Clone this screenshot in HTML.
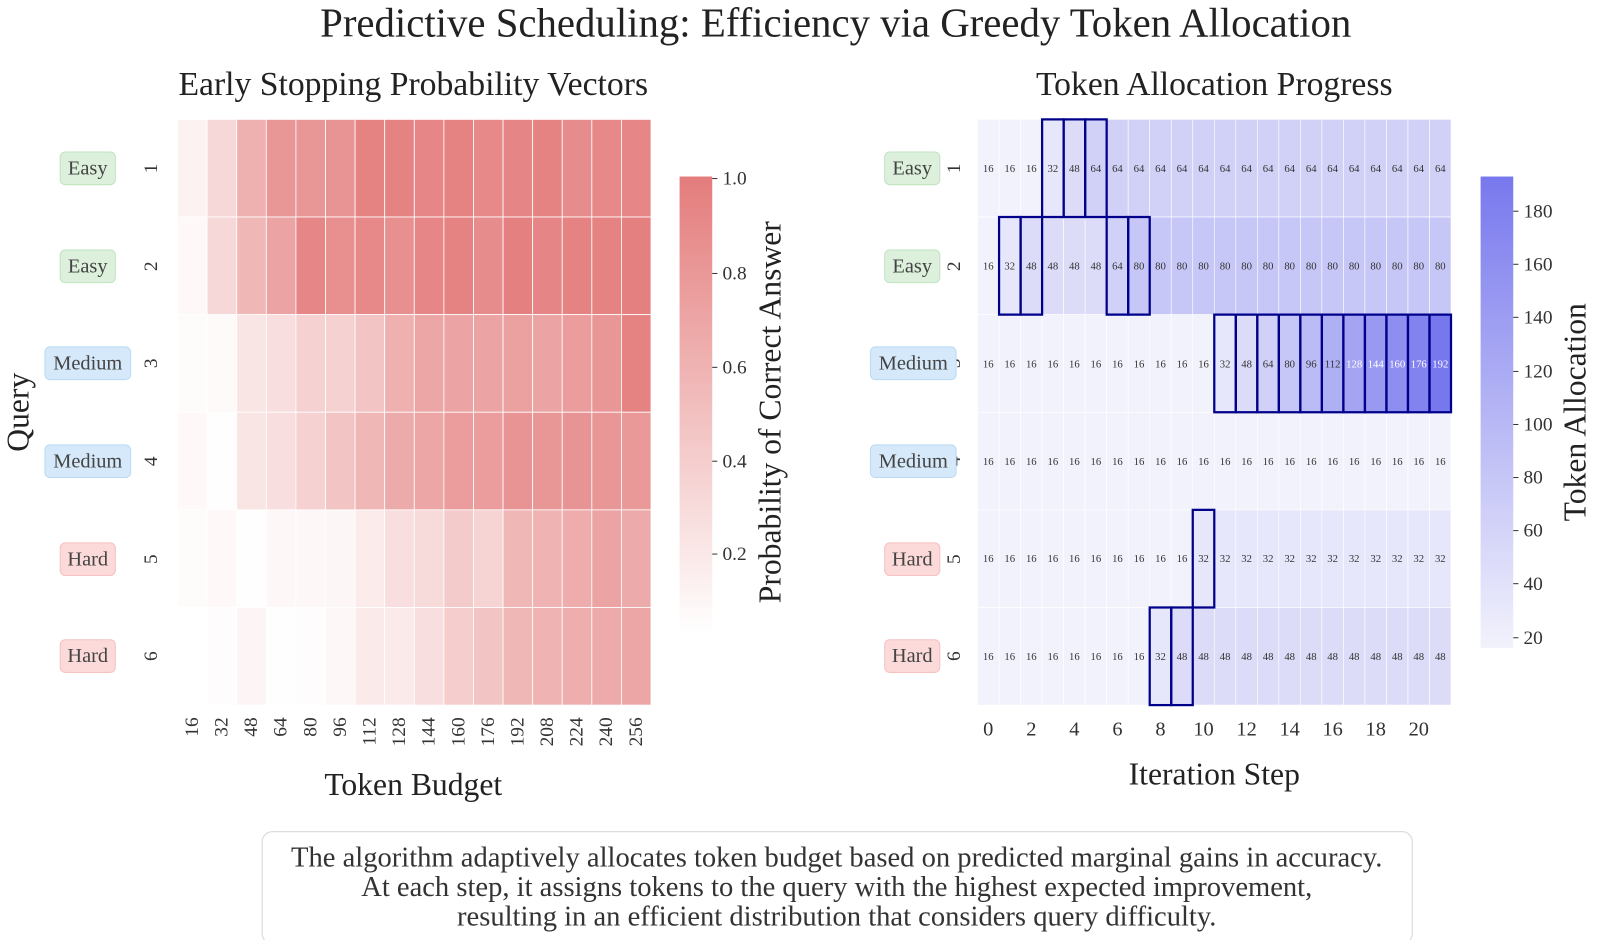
<!DOCTYPE html>
<html><head><meta charset="utf-8"><style>
html,body{margin:0;padding:0;background:#fff;}
svg{display:block;font-family:"Liberation Serif","DejaVu Serif",serif;}
</style></head><body>
<svg id="s" width="1600" height="940" viewBox="0 0 1600 940" xmlns="http://www.w3.org/2000/svg">
<defs>
<linearGradient id="gl" x1="0" y1="1" x2="0" y2="0"><stop offset="0" stop-color="#ffffff"/><stop offset="1" stop-color="#e47c7c"/></linearGradient>
<linearGradient id="gr" x1="0" y1="1" x2="0" y2="0"><stop offset="0" stop-color="#f2f2fc"/><stop offset="1" stop-color="#7878ee"/></linearGradient>
</defs>
<g transform="scale(1.0204)">
<g id="cellsL"></g><g id="cellsR"></g><g id="boxes"></g>
<text x="819" y="36" font-size="40" text-anchor="middle" fill="#222">Predictive Scheduling: Efficiency via Greedy Token Allocation</text>
<text x="405" y="93" font-size="33" text-anchor="middle" fill="#222">Early Stopping Probability Vectors</text>
<text x="1190" y="93" font-size="33" text-anchor="middle" fill="#222">Token Allocation Progress</text>
<g font-size="19" fill="#333">
<text transform="translate(154,165) rotate(-90)" text-anchor="middle">1</text>
<text transform="translate(154,261) rotate(-90)" text-anchor="middle">2</text>
<text transform="translate(154,356) rotate(-90)" text-anchor="middle">3</text>
<text transform="translate(154,452) rotate(-90)" text-anchor="middle">4</text>
<text transform="translate(154,548) rotate(-90)" text-anchor="middle">5</text>
<text transform="translate(154,643) rotate(-90)" text-anchor="middle">6</text>
<text transform="translate(941,165) rotate(-90)" text-anchor="middle">1</text>
<text transform="translate(941,261) rotate(-90)" text-anchor="middle">2</text>
<text transform="translate(941,356) rotate(-90)" text-anchor="middle">3</text>
<text transform="translate(941,452) rotate(-90)" text-anchor="middle">4</text>
<text transform="translate(941,548) rotate(-90)" text-anchor="middle">5</text>
<text transform="translate(941,643) rotate(-90)" text-anchor="middle">6</text>
</g>
<g font-size="20" fill="#444" text-anchor="middle">
<rect x="59" y="149" width="54" height="32" rx="5" fill="#dcf0dc" stroke="#bfe3bf"/><text x="86" y="171">Easy</text>
<rect x="59" y="245" width="54" height="32" rx="5" fill="#dcf0dc" stroke="#bfe3bf"/><text x="86" y="267">Easy</text>
<rect x="44" y="340" width="84" height="32" rx="5" fill="#d5e9fa" stroke="#b9daf5"/><text x="86" y="362">Medium</text>
<rect x="44" y="436" width="84" height="32" rx="5" fill="#d5e9fa" stroke="#b9daf5"/><text x="86" y="458">Medium</text>
<rect x="59" y="532" width="54" height="32" rx="5" fill="#fcdada" stroke="#f5c1c1"/><text x="86" y="554">Hard</text>
<rect x="59" y="627" width="54" height="32" rx="5" fill="#fcdada" stroke="#f5c1c1"/><text x="86" y="649">Hard</text>
<rect x="867" y="149" width="54" height="32" rx="5" fill="#dcf0dc" stroke="#bfe3bf"/><text x="894" y="171">Easy</text>
<rect x="867" y="245" width="54" height="32" rx="5" fill="#dcf0dc" stroke="#bfe3bf"/><text x="894" y="267">Easy</text>
<rect x="853" y="340" width="84" height="32" rx="5" fill="#d5e9fa" stroke="#b9daf5"/><text x="895" y="362">Medium</text>
<rect x="853" y="436" width="84" height="32" rx="5" fill="#d5e9fa" stroke="#b9daf5"/><text x="895" y="458">Medium</text>
<rect x="867" y="532" width="54" height="32" rx="5" fill="#fcdada" stroke="#f5c1c1"/><text x="894" y="554">Hard</text>
<rect x="867" y="627" width="54" height="32" rx="5" fill="#fcdada" stroke="#f5c1c1"/><text x="894" y="649">Hard</text>
</g>
<g font-size="19" fill="#333" text-anchor="end">
<text transform="translate(194,703) rotate(-90)">16</text>
<text transform="translate(223,703) rotate(-90)">32</text>
<text transform="translate(252,703) rotate(-90)">48</text>
<text transform="translate(281,703) rotate(-90)">64</text>
<text transform="translate(310,703) rotate(-90)">80</text>
<text transform="translate(339,703) rotate(-90)">96</text>
<text transform="translate(368,703) rotate(-90)">112</text>
<text transform="translate(397,703) rotate(-90)">128</text>
<text transform="translate(426,703) rotate(-90)">144</text>
<text transform="translate(455,703) rotate(-90)">160</text>
<text transform="translate(484,703) rotate(-90)">176</text>
<text transform="translate(513,703) rotate(-90)">192</text>
<text transform="translate(542,703) rotate(-90)">208</text>
<text transform="translate(571,703) rotate(-90)">224</text>
<text transform="translate(600,703) rotate(-90)">240</text>
<text transform="translate(629,703) rotate(-90)">256</text>
</g>
<g font-size="20" fill="#333" text-anchor="middle">
<text x="968.5" y="721">0</text><text x="1010.7" y="721">2</text><text x="1052.9" y="721">4</text><text x="1095.1" y="721">6</text><text x="1137.3" y="721">8</text><text x="1179.5" y="721">10</text><text x="1221.7" y="721">12</text><text x="1263.9" y="721">14</text><text x="1306" y="721">16</text><text x="1348.2" y="721">18</text><text x="1390.4" y="721">20</text>
</g>
<text x="405" y="779" font-size="31" text-anchor="middle" fill="#222">Token Budget</text>
<text x="1190" y="769" font-size="31" text-anchor="middle" fill="#222">Iteration Step</text>
<text transform="translate(28,404) rotate(-90)" font-size="31" text-anchor="middle" fill="#222">Query</text>
<rect x="666" y="173" width="32" height="449" fill="url(#gl)"/>
<g font-size="19" fill="#333">
<line x1="698" y1="175" x2="703" y2="175" stroke="#333"/><text x="708" y="181">1.0</text>
<line x1="698" y1="268" x2="703" y2="268" stroke="#333"/><text x="708" y="274">0.8</text>
<line x1="698" y1="360" x2="703" y2="360" stroke="#333"/><text x="708" y="366">0.6</text>
<line x1="698" y1="452" x2="703" y2="452" stroke="#333"/><text x="708" y="458">0.4</text>
<line x1="698" y1="543" x2="703" y2="543" stroke="#333"/><text x="708" y="549">0.2</text>
</g>
<text transform="translate(765,404) rotate(-90)" font-size="31" text-anchor="middle" fill="#222">Probability of Correct Answer</text>
<rect x="1451" y="173" width="32" height="462" fill="url(#gr)"/>
<g font-size="19" fill="#333">
<line x1="1483" y1="207" x2="1488" y2="207" stroke="#333"/><text x="1493" y="213">180</text>
<line x1="1483" y1="259" x2="1488" y2="259" stroke="#333"/><text x="1493" y="265">160</text>
<line x1="1483" y1="311" x2="1488" y2="311" stroke="#333"/><text x="1493" y="317">140</text>
<line x1="1483" y1="364" x2="1488" y2="364" stroke="#333"/><text x="1493" y="370">120</text>
<line x1="1483" y1="416" x2="1488" y2="416" stroke="#333"/><text x="1493" y="422">100</text>
<line x1="1483" y1="468" x2="1488" y2="468" stroke="#333"/><text x="1493" y="474">80</text>
<line x1="1483" y1="520" x2="1488" y2="520" stroke="#333"/><text x="1493" y="526">60</text>
<line x1="1483" y1="572" x2="1488" y2="572" stroke="#333"/><text x="1493" y="578">40</text>
<line x1="1483" y1="625" x2="1488" y2="625" stroke="#333"/><text x="1493" y="631">20</text>
</g>
<text transform="translate(1554,404) rotate(-90)" font-size="31" text-anchor="middle" fill="#222">Token Allocation</text>
<g font-size="10.5" fill="#333" text-anchor="middle">
<text y="168.5"><tspan x="968.5">16</tspan><tspan x="989.6">16</tspan><tspan x="1010.7">16</tspan><tspan x="1031.8">32</tspan><tspan x="1052.9">48</tspan><tspan x="1074">64</tspan><tspan x="1095.1">64</tspan><tspan x="1116.2">64</tspan><tspan x="1137.3">64</tspan><tspan x="1158.4">64</tspan><tspan x="1179.5">64</tspan><tspan x="1200.6">64</tspan><tspan x="1221.7">64</tspan><tspan x="1242.8">64</tspan><tspan x="1263.9">64</tspan><tspan x="1285">64</tspan><tspan x="1306">64</tspan><tspan x="1327.1">64</tspan><tspan x="1348.2">64</tspan><tspan x="1369.3">64</tspan><tspan x="1390.4">64</tspan><tspan x="1411.5">64</tspan></text>
<text y="264"><tspan x="968.5">16</tspan><tspan x="989.6">32</tspan><tspan x="1010.7">48</tspan><tspan x="1031.8">48</tspan><tspan x="1052.9">48</tspan><tspan x="1074">48</tspan><tspan x="1095.1">64</tspan><tspan x="1116.2">80</tspan><tspan x="1137.3">80</tspan><tspan x="1158.4">80</tspan><tspan x="1179.5">80</tspan><tspan x="1200.6">80</tspan><tspan x="1221.7">80</tspan><tspan x="1242.8">80</tspan><tspan x="1263.9">80</tspan><tspan x="1285">80</tspan><tspan x="1306">80</tspan><tspan x="1327.1">80</tspan><tspan x="1348.2">80</tspan><tspan x="1369.3">80</tspan><tspan x="1390.4">80</tspan><tspan x="1411.5">80</tspan></text>
<text y="360"><tspan x="968.5">16</tspan><tspan x="989.6">16</tspan><tspan x="1010.7">16</tspan><tspan x="1031.8">16</tspan><tspan x="1052.9">16</tspan><tspan x="1074">16</tspan><tspan x="1095.1">16</tspan><tspan x="1116.2">16</tspan><tspan x="1137.3">16</tspan><tspan x="1158.4">16</tspan><tspan x="1179.5">16</tspan><tspan x="1200.6">32</tspan><tspan x="1221.7">48</tspan><tspan x="1242.8">64</tspan><tspan x="1263.9">80</tspan><tspan x="1285">96</tspan><tspan x="1306">112</tspan><tspan x="1327.1" fill="#fff">128</tspan><tspan x="1348.2" fill="#fff">144</tspan><tspan x="1369.3" fill="#fff">160</tspan><tspan x="1390.4" fill="#fff">176</tspan><tspan x="1411.5" fill="#fff">192</tspan></text>
<text y="455.5"><tspan x="968.5">16</tspan><tspan x="989.6">16</tspan><tspan x="1010.7">16</tspan><tspan x="1031.8">16</tspan><tspan x="1052.9">16</tspan><tspan x="1074">16</tspan><tspan x="1095.1">16</tspan><tspan x="1116.2">16</tspan><tspan x="1137.3">16</tspan><tspan x="1158.4">16</tspan><tspan x="1179.5">16</tspan><tspan x="1200.6">16</tspan><tspan x="1221.7">16</tspan><tspan x="1242.8">16</tspan><tspan x="1263.9">16</tspan><tspan x="1285">16</tspan><tspan x="1306">16</tspan><tspan x="1327.1">16</tspan><tspan x="1348.2">16</tspan><tspan x="1369.3">16</tspan><tspan x="1390.4">16</tspan><tspan x="1411.5">16</tspan></text>
<text y="551"><tspan x="968.5">16</tspan><tspan x="989.6">16</tspan><tspan x="1010.7">16</tspan><tspan x="1031.8">16</tspan><tspan x="1052.9">16</tspan><tspan x="1074">16</tspan><tspan x="1095.1">16</tspan><tspan x="1116.2">16</tspan><tspan x="1137.3">16</tspan><tspan x="1158.4">16</tspan><tspan x="1179.5">32</tspan><tspan x="1200.6">32</tspan><tspan x="1221.7">32</tspan><tspan x="1242.8">32</tspan><tspan x="1263.9">32</tspan><tspan x="1285">32</tspan><tspan x="1306">32</tspan><tspan x="1327.1">32</tspan><tspan x="1348.2">32</tspan><tspan x="1369.3">32</tspan><tspan x="1390.4">32</tspan><tspan x="1411.5">32</tspan></text>
<text y="647"><tspan x="968.5">16</tspan><tspan x="989.6">16</tspan><tspan x="1010.7">16</tspan><tspan x="1031.8">16</tspan><tspan x="1052.9">16</tspan><tspan x="1074">16</tspan><tspan x="1095.1">16</tspan><tspan x="1116.2">16</tspan><tspan x="1137.3">32</tspan><tspan x="1158.4">48</tspan><tspan x="1179.5">48</tspan><tspan x="1200.6">48</tspan><tspan x="1221.7">48</tspan><tspan x="1242.8">48</tspan><tspan x="1263.9">48</tspan><tspan x="1285">48</tspan><tspan x="1306">48</tspan><tspan x="1327.1">48</tspan><tspan x="1348.2">48</tspan><tspan x="1369.3">48</tspan><tspan x="1390.4">48</tspan><tspan x="1411.5">48</tspan></text>
</g>
<rect x="257" y="815" width="1127" height="110" rx="10" fill="#fff" stroke="#ddd" stroke-width="1.2"/>
<g font-size="28" fill="#333" text-anchor="middle">
<text x="820" y="849">The algorithm adaptively allocates token budget based on predicted marginal gains in accuracy.</text>
<text x="820" y="878">At each step, it assigns tokens to the query with the highest expected improvement,</text>
<text x="820" y="907">resulting in an efficient distribution that considers query difficulty.</text>
</g>
</g>
</svg>
<script>
(function(){
var NS="http://www.w3.org/2000/svg";
function R(g,x,y,w,h,f,st,sw){var r=document.createElementNS(NS,"rect");r.setAttribute("x",x);r.setAttribute("y",y);r.setAttribute("width",w);r.setAttribute("height",h);r.setAttribute("fill",f);if(st){r.setAttribute("stroke",st);r.setAttribute("stroke-width",sw);}g.appendChild(r);}
var L=[[.1,.3,.6,.8,.8,.82,.95,.95,.92,.95,.9,.93,.95,.88,.9,.92],
[.05,.3,.55,.7,.92,.85,.9,.85,.92,.95,.88,.97,.93,.95,.95,.97],
[.03,.04,.2,.25,.35,.35,.45,.6,.68,.7,.7,.72,.7,.75,.8,.95],
[.05,.01,.2,.25,.35,.45,.55,.65,.68,.75,.75,.82,.8,.82,.8,.78],
[.03,.05,.01,.06,.06,.07,.15,.25,.28,.4,.33,.55,.58,.63,.7,.65],
[0,.02,.08,.01,.02,.06,.16,.16,.25,.38,.45,.55,.58,.62,.65,.68]];
var gl=document.getElementById("cellsL"),rh=574/6;
for(var i=0;i<6;i++)for(var j=0;j<16;j++){var t=L[i][j];var c="rgb("+Math.round(255-27*t)+","+Math.round(255-131*t)+","+Math.round(255-131*t)+")";R(gl,174+29*j,117+rh*i,29,rh,c,"#fff",0.8);}
var V=[[16,16,16,32,48,64],[16,32,48,48,48,48,64,80],[16,16,16,16,16,16,16,16,16,16,16,32,48,64,80,96,112,128,144,160,176,192],[],[16,16,16,16,16,16,16,16,16,16,32],[16,16,16,16,16,16,16,16,32,48]];
var gr=document.getElementById("cellsR"),cw=464/22;
for(var i=0;i<6;i++){var row=V[i];for(var j=0;j<22;j++){var v=j<row.length?row[j]:(row.length?row[row.length-1]:16);var t=(v-16)/176;var c="rgb("+Math.round(242-122*t)+","+Math.round(242-122*t)+","+Math.round(252-14*t)+")";R(gr,958+cw*j,117+rh*i,cw,rh,c,"#fff",0.6);}}
var B=[[0,3],[0,4],[0,5],[1,1],[1,2],[1,6],[1,7],[4,10],[5,8],[5,9]];for(var j=11;j<22;j++)B.push([2,j]);
var gb=document.getElementById("boxes");
B.forEach(function(b){R(gb,958+cw*b[1],117+rh*b[0],cw,rh,"none","#00008b",2.2);});
})();
</script>
</body></html>
